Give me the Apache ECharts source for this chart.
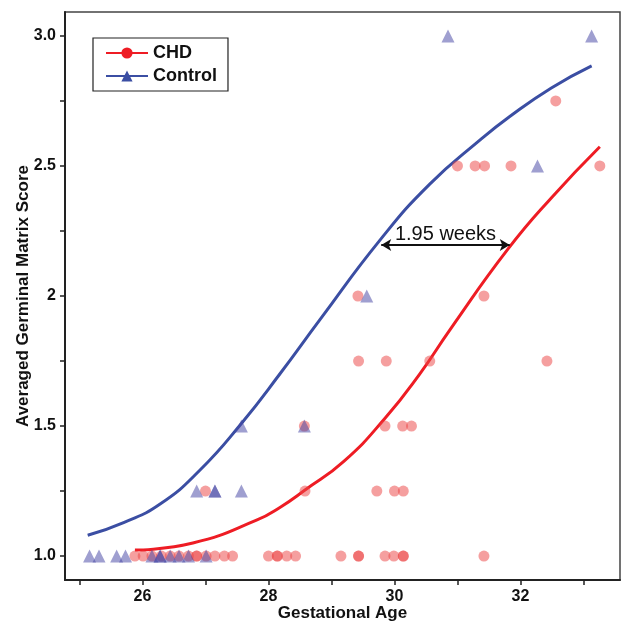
<!DOCTYPE html>
<html>
<head>
<meta charset="utf-8">
<script src="https://cdn.jsdelivr.net/npm/echarts@6/dist/echarts.min.js"></script>
<style>html,body{margin:0;padding:0;background:#fff;}#c{width:622px;height:624px;}</style>
</head>
<body>
<div id="c"></div>
<script>
// Scatter data
var chdX = [25.88,26.01,26.15,26.30,26.44,26.58,26.73,26.86,26.86,27.01,27.15,27.30,27.43,28.00,28.14,28.14,28.29,28.43,29.15,29.43,29.43,29.85,29.99,30.14,30.14,31.42,
            27.0,28.58,29.72,30.0,30.14,
            28.57,29.85,30.13,30.27,
            29.43,29.87,30.56,32.42,
            29.42,31.42,
            31.0,31.28,31.43,31.85,33.26,
            32.56];
var chdY = [1,1,1,1,1,1,1,1,1,1,1,1,1,1,1,1,1,1,1,1,1,1,1,1,1,1,
            1.25,1.25,1.25,1.25,1.25,
            1.5,1.5,1.5,1.5,
            1.75,1.75,1.75,1.75,
            2,2,
            2.5,2.5,2.5,2.5,2.5,
            2.75];
var ctlX = [25.16,25.31,25.59,25.73,26.15,26.28,26.28,26.44,26.58,26.73,27.01,
            26.86,27.15,27.15,27.57,
            27.57,28.57,
            29.56,
            32.27,
            30.85,33.13];
var ctlY = [1,1,1,1,1,1,1,1,1,1,1,
            1.25,1.25,1.25,1.25,
            1.5,1.5,
            2,
            2.5,
            3,3];
// Fitted curves
var chdCurveX = [25.88,26.8,27.81,28.2,28.58,29.2,29.85,30.4,30.88,31.8,32.5,33.26];
var chdCurveY = [1.023,1.05,1.138,1.19,1.254,1.365,1.53,1.70,1.87,2.18,2.38,2.574];
var ctlCurveX = [25.13,25.71,26.28,26.91,27.57,28.18,28.82,29.77,30.56,31.36,31.83,32.49,33.13];
var ctlCurveY = [1.08,1.13,1.20,1.33,1.51,1.70,1.91,2.215,2.43,2.60,2.69,2.80,2.885];
// Axis ticks
var xTicks = [25,26,27,28,29,30,31,32,33];
var xLabels = [26,28,30,32];
var yTicks = [1,1.25,1.5,1.75,2,2.25,2.5,2.75,3];
var yLabelVals = [1,1.5,2,2.5,3];
var yLabelText = ['1.0','1.5','2','2.5','3.0'];
// Annotation
var gapStart = [29.79, 2.196];
var gapEnd = [31.83, 2.196];
var gapText = '1.95 weeks';

function zip(a,b){return a.map(function(v,i){return [v,b[i]];});}
var FONT = '"Liberation Sans", Arial, sans-serif';
var chart = echarts.init(document.getElementById('c'), null, {renderer:'canvas'});
chart.setOption({
  animation:false,
  backgroundColor:'#fff',
  grid:{left:65,right:2,top:12,bottom:44,containLabel:false,outerBoundsMode:'none',show:true,borderColor:'#444',borderWidth:1.5,backgroundColor:'transparent'},
  legend:{
    data:['CHD','Control'],
    left:93, top:38, orient:'vertical',
    padding:[6,11,6,12], itemGap:5, itemWidth:42, itemHeight:14,
    borderColor:'#222', borderWidth:1.2, backgroundColor:'#fff',
    textStyle:{fontFamily:FONT,fontWeight:'bold',fontSize:18,color:'#111'}
  },
  xAxis:{
    type:'value', min:24.77, max:33.58,
    name:'Gestational Age', nameLocation:'middle', nameGap:25, nameMoveOverlap:false,
    nameTextStyle:{fontFamily:FONT,fontWeight:'bold',fontSize:17,color:'#111'},
    axisLine:{show:true,onZero:false,lineStyle:{color:'#222',width:2}},
    axisTick:{show:true,length:5,lineStyle:{color:'#222',width:1.5},customValues:xTicks},
    axisLabel:{show:true,margin:9,fontFamily:FONT,fontWeight:'bold',fontSize:16,color:'#111',customValues:xLabels},
    splitLine:{show:false}
  },
  yAxis:{
    type:'value', min:0.908, max:3.092,
    name:'Averaged Germinal Matrix Score', nameLocation:'middle', nameGap:33, nameRotate:90, nameMoveOverlap:false,
    nameTextStyle:{fontFamily:FONT,fontWeight:'bold',fontSize:17,color:'#111'},
    axisLine:{show:true,onZero:false,lineStyle:{color:'#222',width:2}},
    axisTick:{show:true,length:5,lineStyle:{color:'#222',width:1.5},customValues:yTicks},
    axisLabel:{show:true,margin:9,fontFamily:FONT,fontWeight:'bold',fontSize:16,color:'#111',customValues:yLabelVals,
      formatter:function(v){var i=yLabelVals.indexOf(v);return i>=0?yLabelText[i]:'';}},
    splitLine:{show:false}
  },
  series:[
    {name:'CHD',type:'line',smooth:true,showSymbol:false,symbol:'circle',symbolSize:9,
     data:zip(chdCurveX,chdCurveY),lineStyle:{color:'#ee1c24',width:3},itemStyle:{color:'#ee1c24'},z:2},
    {name:'Control',type:'line',smooth:true,showSymbol:false,symbol:'triangle',symbolSize:10,
     data:zip(ctlCurveX,ctlCurveY),lineStyle:{color:'#3b4ea3',width:3},itemStyle:{color:'#3b4ea3'},z:2,
     markLine:{silent:true,symbol:['arrow','arrow'],symbolSize:[9,10],
       lineStyle:{color:'#111',width:2,type:'solid'},
       label:{show:true,position:'insideMiddleTop',formatter:gapText,fontFamily:FONT,fontSize:20,color:'#111',distance:1},
       data:[[{coord:gapStart},{coord:gapEnd}]]}},
    {name:'CHD pts',type:'scatter',symbol:'circle',symbolSize:11,data:zip(chdX,chdY),
     itemStyle:{color:'rgba(236,70,70,0.65)'},z:3},
    {name:'Control pts',type:'scatter',symbol:'triangle',symbolSize:13,data:zip(ctlX,ctlY),
     itemStyle:{color:'rgba(70,70,165,0.65)'},z:3}
  ]
});
</script>
</body>
</html>
